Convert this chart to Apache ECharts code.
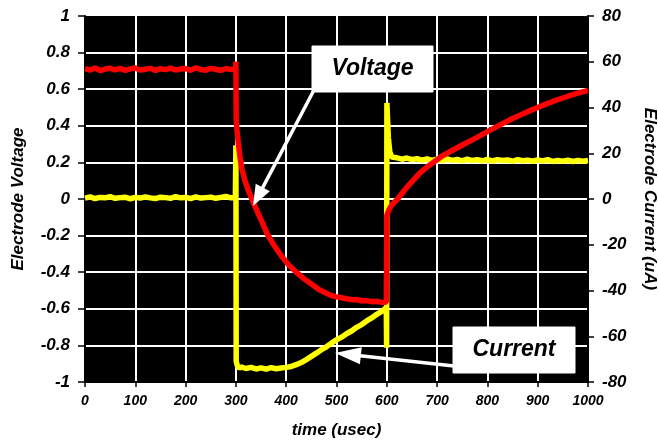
<!DOCTYPE html>
<html>
<head>
<meta charset="utf-8">
<script src="https://cdn.jsdelivr.net/npm/echarts@6/dist/echarts.min.js"></script>
<style>html,body{margin:0;padding:0;background:#fff;}#c{width:658px;height:441px;}</style>
</head>
<body>
<div id="c"></div>
<script>
// ---- data ----
const xTicks = [0,100,200,300,400,500,600,700,800,900,1000];

const voltTime = [0,10,20,30,40,50,60,70,80,90,100,110,120,130,140,150,160,170,180,190,200,210,220,230,240,250,260,270,280,290,299,
  300,300.6,302,305,308,312,318,325,331,338,344,352,362,375,390,405,420,435,450,465,480,490,500,510,520,530,540,550,560,570,580,590,599.4,
  600,603,606,610,615,620,630,640,652,665,680,695,710,725,740,755,770,785,800,815,830,850,870,885,900,915,930,950,965,980,1000];
const voltValue = [0.712,0.705,0.716,0.702,0.71,0.714,0.706,0.713,0.703,0.711,0.716,0.704,0.709,0.714,0.702,0.712,0.707,0.715,0.705,0.71,0.713,0.703,0.716,0.708,0.704,0.714,0.709,0.702,0.713,0.707,0.711,
  0.75,0.43,0.38,0.30,0.23,0.165,0.10,0.045,0.005,-0.04,-0.078,-0.125,-0.19,-0.25,-0.31,-0.36,-0.40,-0.435,-0.465,-0.495,-0.515,-0.528,-0.535,-0.54,-0.545,-0.55,-0.549,-0.556,-0.555,-0.561,-0.559,-0.565,-0.563,
  -0.09,-0.068,-0.05,-0.033,-0.017,-0.005,0.03,0.065,0.10,0.14,0.175,0.205,0.235,0.258,0.28,0.302,0.323,0.345,0.368,0.39,0.412,0.44,0.465,0.483,0.5,0.517,0.533,0.552,0.566,0.578,0.594];

const currTime = [0,10,20,30,40,50,60,70,80,90,100,110,120,130,140,150,160,170,180,190,200,210,220,230,240,250,260,270,280,290,299,
  300,300.6,303,306,310,320,330,340,350,360,370,380,390,400,410,420,430,440,450,460,470,480,490,500,510,520,530,540,550,560,570,580,590,599,
  599.6,600.2,603,606,610,620,630,640,650,660,670,680,690,700,710,720,730,740,750,760,770,780,790,800,810,820,830,840,850,860,870,880,890,900,910,920,930,940,950,960,970,980,990,1000];
const currValue = [0.4,0.9,0.2,0.7,0.5,1.0,0.3,0.6,0.8,0.1,0.7,0.4,0.9,0.5,0.2,0.8,0.6,0.3,1.0,0.5,0.7,0.2,0.9,0.4,0.6,0.8,0.3,0.7,1.1,0.5,0.8,
  23.5,-71,-73,-74,-73.4,-74.1,-73.6,-74.3,-73.8,-74.4,-73.7,-74.2,-73.9,-73.6,-73.2,-72.4,-71.5,-70.2,-68.8,-67.4,-65.9,-64.6,-63.0,-61.6,-60.4,-58.9,-57.7,-56.1,-54.9,-53.3,-52.0,-50.4,-49.1,-47.5,
  -65,42,27,20.5,18.3,18.0,17.4,17.9,17.2,17.6,17.0,17.5,16.9,17.4,16.8,17.5,16.9,17.3,16.7,17.4,16.8,17.2,16.7,17.3,16.6,17.2,16.8,17.1,16.5,17.2,16.7,17.0,16.5,17.1,16.6,17.2,16.4,16.9,16.5,17.0,16.4,16.9,16.5,16.8];

const FONT = "'Liberation Sans', Arial, sans-serif";

function arrow(x1, y1, x2, y2, len, half) {
  const dx = x2 - x1, dy = y2 - y1, L = Math.hypot(dx, dy), ux = dx / L, uy = dy / L;
  const bx = x2 - ux * len, by = y2 - uy * len;
  const sx = bx + ux * 3, sy = by + uy * 3;
  return [
    {type: 'line', z: 100, shape: {x1: x1, y1: y1, x2: sx, y2: sy}, style: {stroke: '#fff', lineWidth: 3.5}},
    {type: 'polygon', z: 100, shape: {points: [[x2, y2], [bx - uy * half, by + ux * half], [bx + uy * half, by - ux * half]]}, style: {fill: '#fff'}}
  ];
}

function box(x, y, w, h, label) {
  return [
    {type: 'rect', z: 100, shape: {x: x, y: y, width: w, height: h}, style: {fill: '#fff', stroke: '#fff'}},
    {type: 'text', z: 101, style: {text: label, x: x + w / 2, y: y + h / 2, fill: '#000', font: "italic bold 23px " + FONT, align: 'center', verticalAlign: 'middle'}}
  ];
}

const chart = echarts.init(document.getElementById('c'));
const labelStyle = {color: '#000', fontFamily: FONT, fontWeight: 'bold', fontStyle: 'italic'};

chart.setOption({
  animation: false,
  backgroundColor: '#fff',
  grid: {left: 85, right: 70, top: 16, bottom: 59, show: true, backgroundColor: '#000', borderWidth: 0, containLabel: false, outerBoundsMode: 'none'},
  xAxis: {
    type: 'value', min: 0, max: 1000, interval: 100,
    name: 'time (usec)', nameLocation: 'middle', nameGap: 40,
    nameTextStyle: Object.assign({fontSize: 17}, labelStyle),
    axisLine: {show: true, onZero: false, lineStyle: {color: '#000', width: 2}},
    axisTick: {show: true, inside: false, length: 5, lineStyle: {color: '#000', width: 1.5}},
    axisLabel: Object.assign({fontSize: 14, margin: 12, formatter: function (v) { return String(v); }}, labelStyle),
    splitLine: {show: true, showMinLine: false, showMaxLine: false, lineStyle: {color: '#fff', width: 2}}
  },
  yAxis: [{
    type: 'value', min: -1, max: 1, interval: 0.2, position: 'left',
    name: 'Electrode Voltage', nameLocation: 'middle', nameGap: 58, nameRotate: 90,
    nameTextStyle: Object.assign({fontSize: 17}, labelStyle),
    axisLine: {show: true, onZero: false, lineStyle: {color: '#000', width: 2}},
    axisTick: {show: true, inside: false, length: 7, lineStyle: {color: '#000', width: 1.5}},
    axisLabel: Object.assign({fontSize: 17, margin: 15, formatter: function (v) { return String(Math.round(v * 10) / 10); }}, labelStyle),
    splitLine: {show: true, showMinLine: false, showMaxLine: false, lineStyle: {color: '#fff', width: 2}}
  }, {
    type: 'value', min: -80, max: 80, interval: 20, position: 'right',
    name: 'Electrode Current (uA)', nameLocation: 'middle', nameGap: 53, nameRotate: -90,
    nameTextStyle: Object.assign({fontSize: 17}, labelStyle),
    axisLine: {show: true, onZero: false, lineStyle: {color: '#000', width: 2}},
    axisTick: {show: true, inside: false, length: 6, lineStyle: {color: '#000', width: 1.5}},
    axisLabel: Object.assign({fontSize: 17, margin: 14}, labelStyle),
    splitLine: {show: false}
  }],
  series: [{
    name: 'Current', type: 'line', yAxisIndex: 1, showSymbol: false, symbol: 'none',
    data: currTime.map(function (t, i) { return [t, currValue[i]]; }),
    lineStyle: {color: '#ffff00', width: 5.5}, itemStyle: {color: '#ffff00'}, z: 3
  }, {
    name: 'Voltage', type: 'line', yAxisIndex: 0, showSymbol: false, symbol: 'none',
    data: voltTime.map(function (t, i) { return [t, voltValue[i]]; }),
    lineStyle: {color: '#ff0000', width: 5.5}, itemStyle: {color: '#ff0000'}, z: 4
  }],
  graphic: [].concat(
    arrow(314, 90, 253, 206, 21, 8),
    arrow(454, 366, 335, 353, 26, 8.5),
    box(312, 46, 121, 46, 'Voltage'),
    box(453, 327, 122, 46, 'Current')
  )
});
</script>
</body>
</html>
